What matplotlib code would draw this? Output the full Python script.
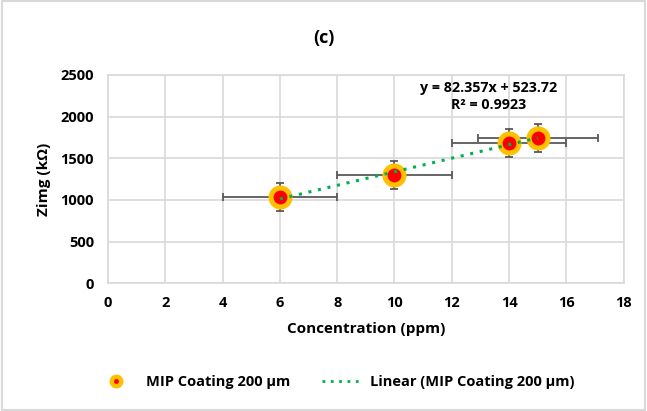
"""Zimg vs concentration for MIP coating 200 um, with linear trendline."""

import matplotlib

matplotlib.use("Agg")

import matplotlib.pyplot as plt  # noqa: E402
import numpy as np  # noqa: E402
from matplotlib.lines import Line2D  # noqa: E402
from matplotlib.patches import Rectangle  # noqa: E402

conc = np.array([6, 10, 14, 15])
zimg = np.array([1032, 1300, 1683, 1745])
conc_err = np.array([2.0, 2.0, 2.0, 2.1])
zimg_err = np.array([170, 170, 168, 170])
fit_label = "y = 82.357x + 523.72\nR² = 0.9923"

plt.rcParams["font.family"] = ["Open Sans", "DejaVu Sans"]
plt.rcParams["font.weight"] = "bold"

fig = plt.figure(figsize=(6.47, 4.11), dpi=100)
ax = fig.add_axes([108 / 647, 1 - 283.3 / 411, 515.6 / 647, 208.3 / 411])

grid_c = "#d9d9d9"
ax.grid(True, color=grid_c, linewidth=1.2)
ax.set_axisbelow(True)
for s in ax.spines.values():
    s.set_color(grid_c)
    s.set_linewidth(1.2)

ax.errorbar(conc, zimg, xerr=conc_err, yerr=zimg_err, fmt="none",
            ecolor="#595959", elinewidth=1.3, capsize=3, capthick=1.3, zorder=2)

slope, icpt = np.polyfit(conc, zimg, 1)
xs = np.array([conc.min(), conc.max()])

ax.scatter(conc, zimg, s=300, color="#ffc000", zorder=4, linewidths=0)
ax.scatter(conc, zimg, s=100, color="#ff0000", zorder=5, linewidths=0)
ax.plot(xs, slope * xs + icpt, color="#00b050", linestyle=(0, (1, 2.2)),
        linewidth=2.2, zorder=6)

ax.text(13.3, 2245, fit_label, ha="center", va="center", fontsize=10.3,
        fontweight="bold", linespacing=1.3)

ax.set_xlim(0, 18)
ax.set_ylim(0, 2500)
ax.set_xticks(np.arange(0, 19, 2))
ax.set_yticks(np.arange(0, 2501, 500))
ax.tick_params(length=0, labelsize=10.5)
ax.tick_params(axis="y", pad=10)
ax.tick_params(axis="x", pad=9)
for lab in ax.get_xticklabels() + ax.get_yticklabels():
    lab.set_fontweight("bold")
ax.set_xlabel("Concentration (ppm)", fontsize=11, fontweight="bold", labelpad=9)
ax.set_ylabel("Zimg (kΩ)", fontsize=11, fontweight="bold", labelpad=7)

fig.text(0.5, 1 - 38 / 411, "(c)", ha="center", va="center", fontsize=13,
         fontweight="bold")

dot_outer = Line2D([], [], marker="o", linestyle="none", markersize=9,
                   markerfacecolor="#ffc000", markeredgecolor="#ffc000")
dot_inner = Line2D([], [], marker="o", linestyle="none", markersize=2.5,
                   markerfacecolor="#ff0000", markeredgecolor="#ff0000")
trend = Line2D([], [], color="#00b050", linestyle=(0, (1, 2)), linewidth=2)
leg = fig.legend([(dot_outer, dot_inner), trend],
                 ["MIP Coating 200 µm", "Linear (MIP Coating 200 µm)"],
                 loc="center", bbox_to_anchor=(0.52, 1 - 382 / 411), ncol=2,
                 frameon=False, fontsize=10.5, columnspacing=2.2,
                 handlelength=2.5)

fig.patches.append(Rectangle((0.003, 0.003), 0.994, 0.994, fill=False,
                             edgecolor=grid_c, linewidth=1.5,
                             transform=fig.transFigure, figure=fig))

fig.savefig("out.png", dpi=100)
